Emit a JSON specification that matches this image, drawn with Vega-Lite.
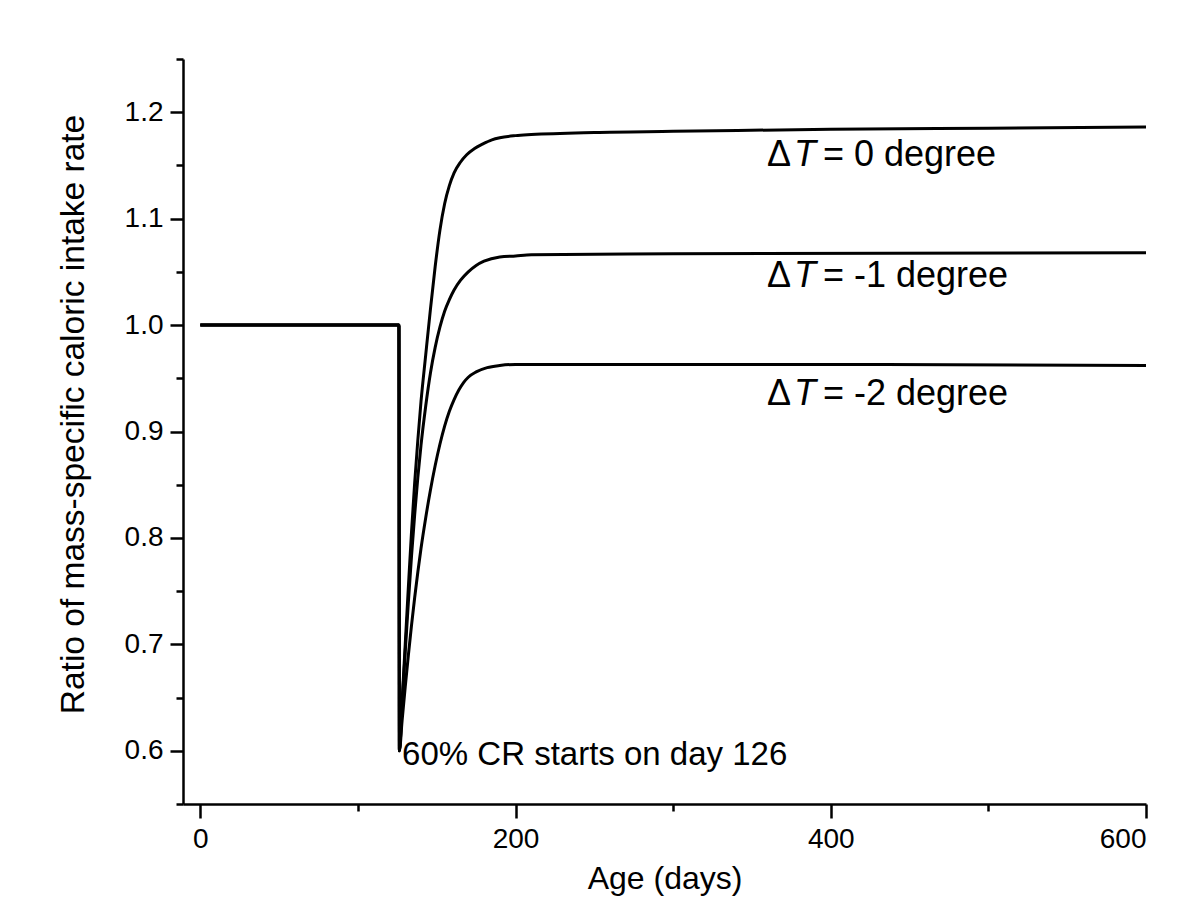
{
  "$schema": "https://vega.github.io/schema/vega-lite/v6.json",
  "width": 963,
  "height": 745,
  "autosize": {"type": "none"},
  "padding": {"left": 183, "top": 59, "right": 54, "bottom": 116},
  "background": "white",
  "config": {
    "view": {"stroke": null},
    "font": "Liberation Sans",
    "axis": {
      "domainColor": "black", "domainWidth": 2.5, "tickColor": "black", "tickWidth": 2.5,
      "labelColor": "black", "titleColor": "black", "labelFont": "Liberation Sans", "titleFont": "Liberation Sans",
      "titleFontWeight": "normal", "grid": false, "labelFontSize": 28
    }
  },
  "datasets": {
    "curves": [
      {"series": "0", "day": 0, "ratio": 1.0},
      {"series": "0", "day": 126, "ratio": 1.0},
      {"series": "0", "day": 126.3, "ratio": 0.6},
      {"series": "0", "day": 128, "ratio": 0.646},
      {"series": "0", "day": 130, "ratio": 0.7},
      {"series": "0", "day": 132, "ratio": 0.754},
      {"series": "0", "day": 134, "ratio": 0.806},
      {"series": "0", "day": 136, "ratio": 0.852},
      {"series": "0", "day": 138, "ratio": 0.892},
      {"series": "0", "day": 140, "ratio": 0.928},
      {"series": "0", "day": 143, "ratio": 0.972},
      {"series": "0", "day": 146, "ratio": 1.015},
      {"series": "0", "day": 149, "ratio": 1.055},
      {"series": "0", "day": 152, "ratio": 1.089},
      {"series": "0", "day": 155, "ratio": 1.114},
      {"series": "0", "day": 158, "ratio": 1.131},
      {"series": "0", "day": 161, "ratio": 1.143},
      {"series": "0", "day": 165, "ratio": 1.153},
      {"series": "0", "day": 169, "ratio": 1.16},
      {"series": "0", "day": 174, "ratio": 1.166},
      {"series": "0", "day": 179, "ratio": 1.17},
      {"series": "0", "day": 185, "ratio": 1.174},
      {"series": "0", "day": 190, "ratio": 1.176},
      {"series": "0", "day": 200, "ratio": 1.178},
      {"series": "0", "day": 210, "ratio": 1.179},
      {"series": "0", "day": 250, "ratio": 1.181},
      {"series": "0", "day": 300, "ratio": 1.182},
      {"series": "0", "day": 400, "ratio": 1.184},
      {"series": "0", "day": 500, "ratio": 1.185},
      {"series": "0", "day": 600, "ratio": 1.186},
      {"series": "-1", "day": 0, "ratio": 1.0},
      {"series": "-1", "day": 126, "ratio": 1.0},
      {"series": "-1", "day": 126.3, "ratio": 0.6},
      {"series": "-1", "day": 128, "ratio": 0.644},
      {"series": "-1", "day": 130, "ratio": 0.693},
      {"series": "-1", "day": 132, "ratio": 0.74},
      {"series": "-1", "day": 134, "ratio": 0.783},
      {"series": "-1", "day": 136, "ratio": 0.822},
      {"series": "-1", "day": 138, "ratio": 0.857},
      {"series": "-1", "day": 140, "ratio": 0.887},
      {"series": "-1", "day": 143, "ratio": 0.924},
      {"series": "-1", "day": 146, "ratio": 0.955},
      {"series": "-1", "day": 149, "ratio": 0.979},
      {"series": "-1", "day": 152, "ratio": 0.998},
      {"series": "-1", "day": 155, "ratio": 1.013},
      {"series": "-1", "day": 158, "ratio": 1.024},
      {"series": "-1", "day": 161, "ratio": 1.033},
      {"series": "-1", "day": 165, "ratio": 1.042},
      {"series": "-1", "day": 170, "ratio": 1.05},
      {"series": "-1", "day": 175, "ratio": 1.056},
      {"series": "-1", "day": 180, "ratio": 1.06},
      {"series": "-1", "day": 190, "ratio": 1.064},
      {"series": "-1", "day": 200, "ratio": 1.065},
      {"series": "-1", "day": 210, "ratio": 1.066},
      {"series": "-1", "day": 300, "ratio": 1.067},
      {"series": "-1", "day": 600, "ratio": 1.068},
      {"series": "-2", "day": 0, "ratio": 1.0},
      {"series": "-2", "day": 126, "ratio": 1.0},
      {"series": "-2", "day": 126.3, "ratio": 0.6},
      {"series": "-2", "day": 128, "ratio": 0.628},
      {"series": "-2", "day": 130, "ratio": 0.66},
      {"series": "-2", "day": 132, "ratio": 0.69},
      {"series": "-2", "day": 134, "ratio": 0.718},
      {"series": "-2", "day": 136, "ratio": 0.744},
      {"series": "-2", "day": 138, "ratio": 0.768},
      {"series": "-2", "day": 140, "ratio": 0.79},
      {"series": "-2", "day": 143, "ratio": 0.819},
      {"series": "-2", "day": 146, "ratio": 0.845},
      {"series": "-2", "day": 149, "ratio": 0.868},
      {"series": "-2", "day": 152, "ratio": 0.888},
      {"series": "-2", "day": 155, "ratio": 0.905},
      {"series": "-2", "day": 158, "ratio": 0.919},
      {"series": "-2", "day": 161, "ratio": 0.93},
      {"series": "-2", "day": 164, "ratio": 0.939},
      {"series": "-2", "day": 167, "ratio": 0.946},
      {"series": "-2", "day": 170, "ratio": 0.951},
      {"series": "-2", "day": 175, "ratio": 0.956},
      {"series": "-2", "day": 182, "ratio": 0.96},
      {"series": "-2", "day": 190, "ratio": 0.962},
      {"series": "-2", "day": 200, "ratio": 0.963},
      {"series": "-2", "day": 250, "ratio": 0.963},
      {"series": "-2", "day": 400, "ratio": 0.963},
      {"series": "-2", "day": 600, "ratio": 0.962}
    ],
    "labels": [
      {"day": 359.5, "ratio": 1.149, "rest": "= 0 degree"},
      {"day": 359.5, "ratio": 1.036, "rest": "= -1 degree"},
      {"day": 359.5, "ratio": 0.925, "rest": "= -2 degree"}
    ],
    "notes": [
      {"day": 128, "ratio": 0.587, "note": "60% CR starts on day 126"}
    ]
  },
  "resolve": {"axis": {"x": "independent", "y": "independent"}},
  "layer": [
    {
      "data": {"name": "curves"},
      "mark": {"type": "line", "color": "black", "strokeWidth": 3, "interpolate": "monotone"},
      "encoding": {
        "x": {"field": "day", "type": "quantitative", "scale": {"domain": [-11, 600], "nice": false, "zero": false},
          "axis": {"orient": "bottom", "values": [0, 200, 400, 600], "tickSize": 14, "labelPadding": 7, "labelFontSize": 28, "title": "Age (days)", "titleFontSize": 32, "titlePadding": 10}},
        "y": {"field": "ratio", "type": "quantitative", "scale": {"domain": [0.55, 1.25], "nice": false, "zero": false},
          "axis": {"orient": "left", "values": [0.6, 0.7, 0.8, 0.9, 1.0, 1.1, 1.2], "format": ".1f", "tickSize": 13, "labelPadding": 7, "labelFontSize": 28, "title": "Ratio of mass-specific caloric intake rate", "titleFontSize": 33.5, "titlePadding": 34, "titleY": 355}},
        "detail": {"field": "series", "type": "nominal"}
      }
    },
    {
      "data": {"name": "labels"},
      "mark": {"type": "text", "text": "Δ", "align": "left", "baseline": "alphabetic", "fontSize": 36, "color": "black", "font": "Liberation Sans"},
      "encoding": {
        "x": {"field": "day", "type": "quantitative", "axis": {"orient": "bottom", "values": [100, 300, 500], "tickSize": 7, "labels": false, "domain": false, "title": null}},
        "y": {"field": "ratio", "type": "quantitative", "axis": {"orient": "left", "values": [0.55, 0.65, 0.75, 0.85, 0.95, 1.05, 1.15, 1.25], "tickSize": 7, "labels": false, "domain": false, "title": null}}
      }
    },
    {
      "data": {"name": "labels"},
      "mark": {"type": "text", "text": "T", "align": "left", "baseline": "alphabetic", "fontSize": 36, "fontStyle": "italic", "dx": 27, "color": "black", "font": "Liberation Sans"},
      "encoding": {
        "x": {"field": "day", "type": "quantitative", "axis": null},
        "y": {"field": "ratio", "type": "quantitative", "axis": null}
      }
    },
    {
      "data": {"name": "labels"},
      "mark": {"type": "text", "align": "left", "baseline": "alphabetic", "fontSize": 36, "dx": 56, "color": "black", "font": "Liberation Sans"},
      "encoding": {
        "x": {"field": "day", "type": "quantitative", "axis": null},
        "y": {"field": "ratio", "type": "quantitative", "axis": null},
        "text": {"field": "rest", "type": "nominal"}
      }
    },
    {
      "data": {"name": "notes"},
      "mark": {"type": "text", "align": "left", "baseline": "alphabetic", "fontSize": 33, "color": "black", "font": "Liberation Sans"},
      "encoding": {
        "x": {"field": "day", "type": "quantitative", "axis": null},
        "y": {"field": "ratio", "type": "quantitative", "axis": null},
        "text": {"field": "note", "type": "nominal"}
      }
    }
  ]
}
